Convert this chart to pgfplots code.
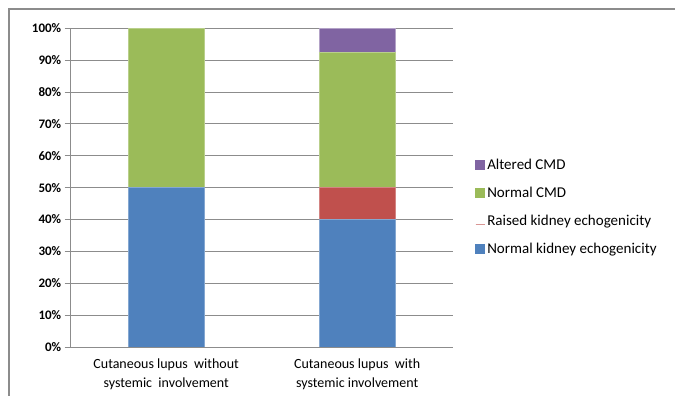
\documentclass[border=0pt]{standalone}
\usepackage{pgfplots}
\pgfplotsset{compat=1.18}
\usepackage{fontspec}
\setmainfont{Carlito}
\definecolor{cblue}{HTML}{4F81BD}
\definecolor{cred}{HTML}{C0504D}
\definecolor{cgreen}{HTML}{9BBB59}
\definecolor{cpurple}{HTML}{8064A2}
\definecolor{gridgray}{HTML}{8C8C8C}
\begin{document}
\begin{tikzpicture}
\path[use as bounding box] (0bp,0bp) rectangle (675bp,396bp);
\draw[gridgray, line width=1.2bp] (9bp,0bp) -- (9bp,387bp) -- (675bp,387bp);
\begin{axis}[
  at={(70.7bp,49bp)}, anchor=south west,
  scale only axis, width=382bp, height=318.7bp,
  ybar stacked, bar width=76bp,
  ymin=0, ymax=100, xmin=-0.5, xmax=1.5,
  xtick={0,1},
  xticklabels={{Cutaneous lupus \ without\\systemic \ involvement},{Cutaneous lupus \ with\\systemic involvement}},
  xticklabel style={align=center, font=\fontsize{14bp}{19bp}\selectfont, yshift=-2bp},
  ytick={0,10,20,30,40,50,60,70,80,90,100},
  yticklabels={0\%,10\%,20\%,30\%,40\%,50\%,60\%,70\%,80\%,90\%,100\%},
  yticklabel style={font=\fontsize{13bp}{15bp}\selectfont\bfseries},
  axis x line*=bottom, axis y line*=left,
  axis line style={gridgray, line width=1bp},
  x axis line style={-}, y axis line style={-},
  ymajorgrids, grid style={gridgray, line width=1bp},
  tick align=outside,
  y tick style={gridgray, line width=1bp},
  major tick length=6bp,
  x tick style={draw=none},
  legend style={at={(1.058,0.598)}, anchor=north west, draw=none, fill=none,
    font=\fontsize{15bp}{17bp}\selectfont, row sep=12.2bp, inner sep=0pt},
  legend cell align=left,
  reverse legend,
]
\addplot[fill=cblue, draw=cblue!70!white, line width=0.8bp,
  legend image code/.code={\fill[cblue] (0bp,-4.5bp) rectangle (9bp,4.5bp);}]
  coordinates {(0,50) (1,40)};
\addlegendentry{Normal kidney echogenicity}
\addplot[fill=cred, draw=cred!70!white, line width=0.8bp,
  legend image code/.code={\draw[cred!60!white, line width=1.2bp] (0bp,-4bp) -- (9bp,-4bp);}]
  coordinates {(0,0) (1,10)};
\addlegendentry{Raised kidney echogenicity}
\addplot[fill=cgreen, draw=cgreen!70!white, line width=0.8bp,
  legend image code/.code={\fill[cgreen] (0bp,-4.5bp) rectangle (9bp,4.5bp);}]
  coordinates {(0,50) (1,42.4)};
\addlegendentry{Normal CMD}
\addplot[fill=cpurple, draw=cpurple!60!white, line width=0.8bp,
  legend image code/.code={\fill[cpurple] (0bp,-4.5bp) rectangle (9bp,4.5bp);}]
  coordinates {(0,0) (1,7.6)};
\addlegendentry{Altered CMD}
\end{axis}
\end{tikzpicture}
\end{document}
